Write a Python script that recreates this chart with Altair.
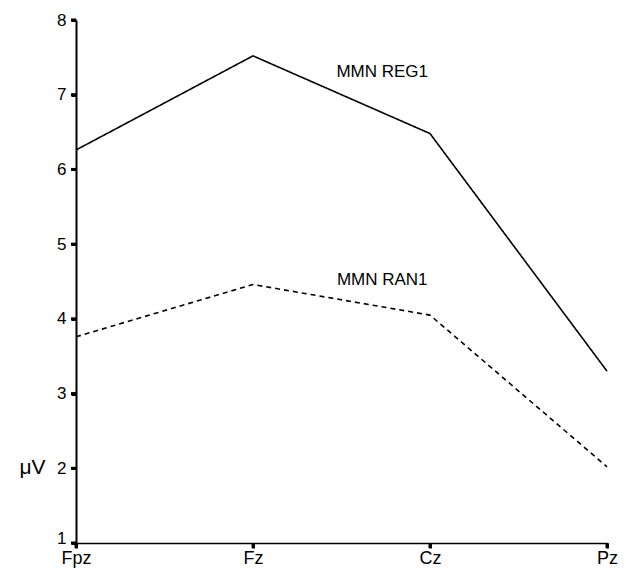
import altair as alt
import pandas as pd

electrodes = ["Fpz", "Fz", "Cz", "Pz"]
reg1 = [6.26, 7.52, 6.48, 3.30]
ran1 = [3.76, 4.46, 4.05, 2.02]
y_ticks = [1, 2, 3, 4, 5, 6, 7, 8]
x_ticks = [0, 1, 2, 3]

label_text = ["MMN REG1", "MMN RAN1"]
label_x = [1.73, 1.73]
label_y = [7.30, 4.52]

rows = []
for i, e in enumerate(electrodes):
    rows.append({"idx": i, "electrode": e, "value": reg1[i], "series": "MMN REG1"})
    rows.append({"idx": i, "electrode": e, "value": ran1[i], "series": "MMN RAN1"})
df = pd.DataFrame(rows)
labels = pd.DataFrame({"text": label_text, "idx": label_x, "value": label_y})
ytick_df = pd.DataFrame({"value": y_ticks})
xtick_df = pd.DataFrame({"idx": x_ticks})

names_expr = "['Fpz','Fz','Cz','Pz'][datum.value]"

xscale = alt.Scale(domain=[0, 3], nice=False, zero=False)
yscale = alt.Scale(domain=[1, 8], nice=False, zero=False)

xaxis = alt.Axis(values=x_ticks, labelExpr=names_expr, title=None,
                 labelFlush=False, labelPadding=1, ticks=True, tickSize=5,
                 tickWidth=3, tickColor="#000000", domainWidth=1.5,
                 domainColor="#000000", labelFontSize=18)
yaxis = alt.Axis(values=y_ticks, format="d", title="μV",
                 titleAngle=0, titleFontSize=21, titleFontWeight="normal",
                 titleX=-44, titleY=447, titleAlign="center",
                 titleBaseline="middle", labelPadding=5, ticks=True,
                 tickSize=5, tickWidth=3, tickColor="#000000",
                 domainWidth=2, domainColor="#000000", labelFontSize=17,
                 labelBaseline={"condition": {"test": "datum.value == 1",
                                              "value": "alphabetic"},
                                "value": "middle"})

lines = alt.Chart(df).mark_line(color="black", strokeWidth=1.6).encode(
    x=alt.X("idx:Q", scale=xscale, axis=xaxis),
    y=alt.Y("value:Q", scale=yscale, axis=yaxis),
    strokeDash=alt.StrokeDash("series:N",
                              scale=alt.Scale(domain=["MMN REG1", "MMN RAN1"],
                                              range=[[1, 0], [5, 4]]),
                              legend=None),
    detail="series:N",
)

texts = alt.Chart(labels).mark_text(font="Liberation Sans", fontSize=17,
                                    color="black", align="center",
                                    baseline="middle").encode(
    x=alt.X("idx:Q", scale=xscale, axis=xaxis),
    y=alt.Y("value:Q", scale=yscale, axis=yaxis),
    text="text:N")

yticks = alt.Chart(ytick_df).mark_rule(color="black", strokeWidth=3,
                                       xOffset=-5).encode(
    x=alt.datum(0, scale=xscale, axis=xaxis),
    x2=alt.datum(0),
    y=alt.Y("value:Q", scale=yscale, axis=yaxis))

xticks = alt.Chart(xtick_df).mark_rule(color="black", strokeWidth=3,
                                       y2Offset=5).encode(
    x=alt.X("idx:Q", scale=xscale, axis=xaxis),
    y=alt.datum(1, scale=yscale, axis=yaxis),
    y2=alt.datum(1))

chart = alt.layer(lines, texts, yticks, xticks).properties(
    width=531, height=523,
    autosize=alt.AutoSizeParams(type="none"),
    padding={"left": 68, "top": 12, "right": 11, "bottom": 29},
    background="white",
).configure_view(stroke=None).configure_axis(
    grid=False, labelFont="Liberation Sans", labelColor="black",
    titleFont="Liberation Sans", titleColor="black",
)

chart.save("out.html", embed_options={"renderer": "svg", "actions": False})
